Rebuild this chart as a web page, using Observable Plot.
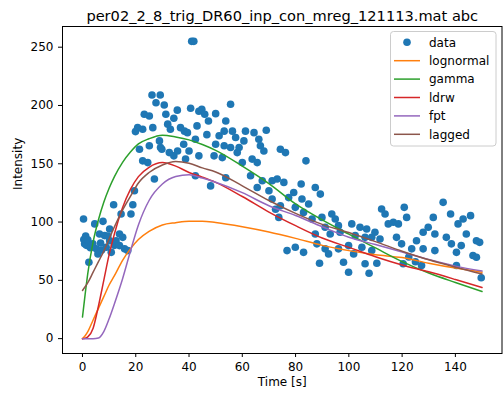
<!DOCTYPE html>
<html><head><meta charset="utf-8">
<script src="https://cdn.jsdelivr.net/npm/d3@7"></script>
<script src="https://cdn.jsdelivr.net/npm/@observablehq/plot@0.6"></script>
<style>
html,body{margin:0;padding:0;background:#fff;}
#chart{width:503px;height:398px;}
</style></head><body><div id="chart"></div>
<script>
const chartTitle = "per02_2_8_trig_DR60_inp_con_mreg_121113.mat abc";
const xLabel = "Time [s]";
const yLabel = "Intensity";
const xTicks = [0, 20, 40, 60, 80, 100, 120, 140];
const yTicks = [0, 50, 100, 150, 200, 250];
const seriesNames = ["data", "lognormal", "gamma", "ldrw", "fpt", "lagged"];
const seriesColors = ["#1f77b4", "#ff7f0e", "#2ca02c", "#d62728", "#9467bd", "#8c564b"];

const dataTime = [0.4,0.5,0.8,1.2,1.5,2,2.4,3,3.9,4.6,5.2,5.8,6.4,6.8,7.2,7.7,8.3,8.9,9.5,10.2,10.2,10.8,11.7,12,12.6,13.9,13.9,14.5,15.1,15.8,17,18.2,18.9,19.5,19.9,20.7,21.4,22.6,22.6,23.2,24.5,25.1,25.1,26.1,26.4,27,27.6,28.9,29.2,29.3,29.8,30.7,31.3,32,32.6,33,34.3,34.3,35.6,35.7,36.8,38,38.3,38.7,39.4,40,40.6,41,41.8,42.4,42.4,43,43.7,43.7,44.8,45.9,46.7,47.3,48.1,49.4,50,50,51.3,52.5,53.2,53.2,53.8,53.8,55.6,55.6,56.3,57.5,58.1,58.8,60,60.6,61.2,63.1,63.7,64.4,65.6,65.6,66.2,66.8,67.5,68.1,69,70,71.2,71.2,72.5,73.1,73.7,74.3,74.3,75.6,76.2,76.8,77.4,79.3,79.9,79.9,82.1,82.4,83,83,83.9,84.9,86.2,87.4,87.4,88,89,89.3,89.9,91.1,91.1,92.4,93,93.6,94.9,96.1,96.1,96.7,98,99.9,99.9,101.1,101.8,102.4,104.2,104.9,106.1,106.1,106.7,107.6,108.6,108.6,109.8,110.5,111.7,112.3,113.6,114.8,116.7,117.9,118.6,119.8,120.4,120.8,121.7,122.5,123.6,125,125.4,127.3,127.9,127.9,129.8,131.7,132.3,132.3,135.4,136.6,138.2,138.5,140.4,140.4,141,142.2,142.9,144.1,145.7,146.6,147.9,147.9,149.1,149.7];
const dataIntensity = [102.6,85,81.3,88,80,84.7,65.5,78,81.3,98.4,77,72.7,89.8,82,76,100.6,88.4,78.4,88,94.1,84,74,114.9,80,84,89.8,79.8,106.9,86.9,77,75.5,106.9,114.9,126.9,177.6,181,162.5,179.6,152.5,192.5,151,191,165.4,209,181,136.9,202.4,169.6,209,164,162.5,200.4,192.5,184,159.6,179.6,189,156.8,196,161,181,166.8,178,154,176.7,161,197.6,255,255,171,139.7,182.5,195,156.8,196.7,192.5,175,186.7,131,156.8,193,166.8,174,155.3,178,165.4,186.7,138,201,164,178,172.5,159.6,164,151,169.6,178,139.7,154,176.7,151,129.7,171,165.4,135.4,161,178.8,126.9,135.4,119.8,111,136.9,104,114,162.5,134,159.6,75.5,121,125.4,112.6,78.4,132.6,119.8,108.3,74,152.5,115.5,102.6,129.7,89.8,81.3,64.7,124,104,95.5,77,72.7,89.8,106.9,102.6,96.9,77,91.2,65.5,79.8,57,98.4,72.7,88.4,95.5,78.4,86.9,64.2,94.1,56.1,86.9,75.5,91.2,64.7,85.5,111.2,106.9,98.4,99.8,86.9,98.4,81.3,64.2,112.6,104,70,77,66,84,62.7,91.2,77,95.5,104,89.8,75.5,116.9,86.9,106.9,81.3,74,62.7,98.4,79.8,102.6,89.8,105.5,71.3,84,69.8,82.6,52.2];

const curveTime = [0,1,2,4,6,8,10,12,15,18,21,25,30,35,40,45,50,60,70,80,90,100,110,120,130,140,150];
const lognormal = [0,2.5,6,16,26,36,46,54,67,77,85,92,97.5,99.5,100.8,100.8,99.6,96,91.5,86,80,75.5,72,69.5,64.7,60.5,57];
const gamma = [18.5,38,56,83,102,117,129,139,151,160,167,171.5,174.5,173,170.5,166.5,161.5,148,133,115.5,101.8,89.6,77.8,66.1,56.3,48.2,40.5];
const ldrw = [0,0.3,1.5,9,28,50,72,90,112,128,139,147,151,148,142.5,138.5,134,121.9,108.6,96.9,86.3,78.3,70.3,63.2,57.3,50.7,43.8];
const fpt = [0,0,0,0,0.5,6,17,30,51,75,97.5,118.5,132.6,139,140.5,137.8,134.2,125.2,114,105.6,96,87,80.7,74.3,67.8,62.2,58];
const lagged = [41.3,44.5,48,57,66,75,85.5,96,110,122,133.5,142.5,149,152,150.5,146.5,143,131.1,118.5,107.4,98,91,83.2,75,67.6,61.3,55.5];

const scatter = dataTime.map((t, i) => ({t, v: dataIntensity[i]}));
const modelValues = [lognormal, gamma, ldrw, fpt, lagged];
const curves = modelValues.map((vals, k) => ({
  name: seriesNames[k + 1], color: seriesColors[k + 1],
  rows: curveTime.map((t, i) => ({t, v: vals[i]}))
}));

const font = "DejaVu Sans, sans-serif";
const plot = Plot.plot({
  width: 503, height: 398,
  marginLeft: 62, marginRight: 1.5, marginTop: 26, marginBottom: 45,
  x: {domain: [-7.5, 157.5]},
  y: {domain: [-12.75, 267.75]},
  style: {fontFamily: font, fontSize: "12px", color: "#000", background: "#fff", overflow: "visible"},
  marks: [
    Plot.dot(scatter, {x: "t", y: "v", r: 3.8, fill: seriesColors[0], stroke: "none"}),
    ...curves.map(c => Plot.line(c.rows, {x: "t", y: "v", stroke: c.color, strokeWidth: 1.5, curve: "monotone-x"})),
    Plot.frame({stroke: "#000", strokeWidth: 1}),
    Plot.axisX({ticks: xTicks, tickSize: 4, tickPadding: 5, label: null, fontSize: 12}),
    Plot.axisY({ticks: yTicks, tickSize: 4, tickPadding: 5, label: null, fontSize: 12}),
    Plot.text([chartTitle], {frameAnchor: "top", lineAnchor: "bottom", dy: -6, text: d => d, fontSize: 14.6}),
    Plot.text([xLabel], {frameAnchor: "bottom", dy: 32, text: d => d, fontSize: 12}),
    Plot.text([yLabel], {frameAnchor: "left", dx: -44, rotate: -90, text: d => d, fontSize: 12})
  ]
});
document.getElementById("chart").appendChild(plot);

// legend (matplotlib style, upper right)
const svg = d3.select(plot);
const lg = svg.append("g").attr("font-family", font).attr("font-size", 12).attr("text-anchor", "start");
lg.append("rect").attr("x", 390.5).attr("y", 31.5).attr("width", 105.5).attr("height", 114.5)
  .attr("rx", 3).attr("fill", "#fff").attr("fill-opacity", 0.8).attr("stroke", "#cccccc");
seriesNames.forEach((name, i) => {
  const yy = 42.3 + i * 18.4;
  if (i === 0) {
    lg.append("circle").attr("cx", 407).attr("cy", yy).attr("r", 3.8).attr("fill", seriesColors[0]);
  } else {
    lg.append("line").attr("x1", 394).attr("x2", 420).attr("y1", yy).attr("y2", yy)
      .attr("stroke", seriesColors[i]).attr("stroke-width", 1.5);
  }
  lg.append("text").attr("x", 429).attr("y", yy).attr("dy", "0.35em").attr("text-anchor", "start")
    .attr("fill", "#000").text(name);
});
</script>
</body></html>
